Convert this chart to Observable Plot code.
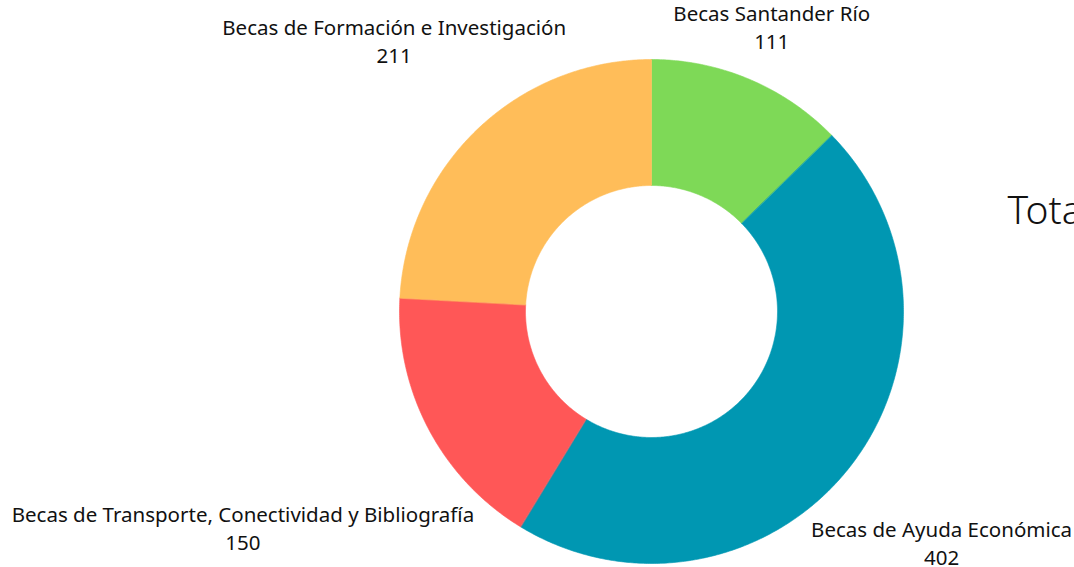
<!DOCTYPE html>
<html>
<head>
<meta charset="utf-8">
<script src="https://cdn.jsdelivr.net/npm/d3@7"></script>
<script src="https://cdn.jsdelivr.net/npm/@observablehq/plot@0.6"></script>
<style>
  html, body { margin: 0; padding: 0; background: #fff; }
  #chart svg { display: block; overflow: hidden; }
</style>
</head>
<body>
<div id="chart"></div>
<script>
// ---- data ----
const categories = [
  "Becas Santander Río",
  "Becas de Ayuda Económica",
  "Becas de Transporte, Conectividad y Bibliografía",
  "Becas de Formación e Investigación"
];
const values = [111, 402, 150, 211];
const colors = ["#7ED957", "#0097B2", "#FF5757", "#FFBD59"];
const totalLabel = "Total";

// ---- layout ----
const W = 1074, H = 567;
const cx = 651, cy = 311;
const rOuter = 252, rInner = 126;
const labelClear = 258;       // distance from centre to nearest corner of a label box
const fontFamily = "'Noto Sans', 'Open Sans', sans-serif";
const fontSize = 20.5;
const lineHeight = 1.37;

const total = d3.sum(values);
let acc = 0;
const slices = categories.map((cat, i) => {
  const a0 = acc / total * 2 * Math.PI;
  acc += values[i];
  const a1 = acc / total * 2 * Math.PI;
  return {cat, value: values[i], a0, a1};
});

// polygon points for each slice
const pts = [];
for (const s of slices) {
  const n = Math.max(8, Math.ceil((s.a1 - s.a0) / (Math.PI / 360)));
  for (let k = 0; k <= n; k++) {
    const a = s.a0 + (s.a1 - s.a0) * k / n;
    pts.push({cat: s.cat, x: cx + rOuter * Math.sin(a), y: cy - rOuter * Math.cos(a)});
  }
  for (let k = n; k >= 0; k--) {
    const a = s.a0 + (s.a1 - s.a0) * k / n;
    pts.push({cat: s.cat, x: cx + rInner * Math.sin(a), y: cy - rInner * Math.cos(a)});
  }
}

// label placement: box pushed out radially until its nearest corner clears the ring
const ctx = document.createElement("canvas").getContext("2d");
ctx.font = `${fontSize}px ${fontFamily}`;
const labels = slices.map(s => {
  const text = `${s.cat}\n${s.value}`;
  const w = Math.max(...text.split("\n").map(t => ctx.measureText(t).width));
  const h = fontSize * lineHeight * 2;
  const am = (s.a0 + s.a1) / 2;
  const ux = Math.sin(am), uy = -Math.cos(am);
  const sx = Math.sign(ux) * w / 2, sy = Math.sign(uy) * h / 2;
  const us = ux * sx + uy * sy;
  const d = us + Math.sqrt(us * us - (sx * sx + sy * sy) + labelClear * labelClear);
  return {text, x: cx + d * ux, y: cy + d * uy};
});

const chart = Plot.plot({
  width: W,
  height: H,
  margin: 0,
  x: {domain: [0, W], range: [0, W], axis: null},
  y: {domain: [0, H], range: [0, H], axis: null},
  color: {domain: categories, range: colors},
  style: {fontFamily, background: "#fff"},
  marks: [
    Plot.line(pts, {x: "x", y: "y", z: "cat", fill: "cat", stroke: "cat", strokeWidth: 0.6, curve: "linear-closed"}),
    Plot.text(labels, {x: "x", y: "y", text: "text", fontSize, lineHeight, lineAnchor: "middle", textAnchor: "middle", fill: "#111"}),
    Plot.text([totalLabel + ": " + total], {x: () => 1007, y: () => 211, text: d => d, fontSize: 39, fontWeight: 300, textAnchor: "start", lineAnchor: "middle", fill: "#111"})
  ]
});
document.getElementById("chart").append(chart);
</script>
</body>
</html>
